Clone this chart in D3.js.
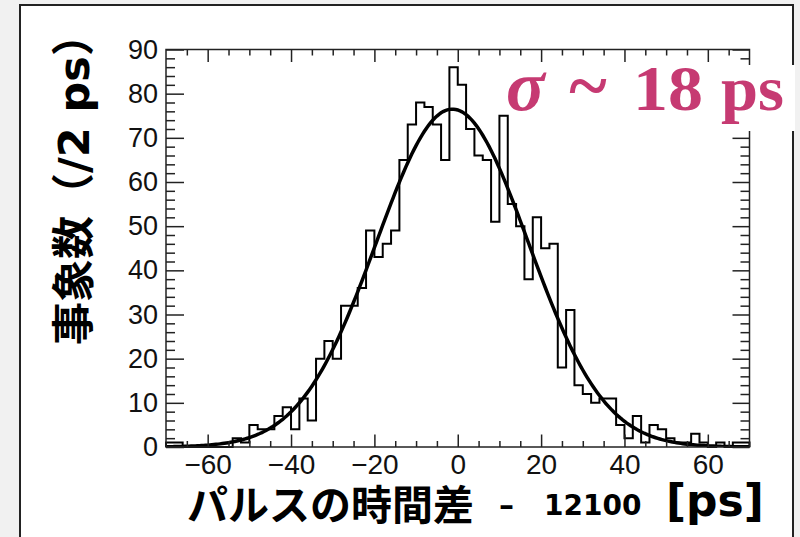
<!DOCTYPE html>
<html>
<head>
<meta charset="utf-8">
<script src="https://cdn.jsdelivr.net/npm/d3@7"></script>
<style>
  body { margin: 0; background: #f1f1f1; }
  svg { display: block; }
</style>
</head>
<body>
<div id="chart"></div>
<script>
// histogram: 2 ps bins from -70 to 70
const binStart = -70;
const binWidth = 2;
const counts = [
  1, 1, 0, 0, 0, 0, 0, 0, 2, 1,
  5, 4, 4, 7, 9, 4, 11, 6, 20, 24,
  20, 32, 32, 36, 49, 43, 46, 49, 65, 73,
  78, 77, 73, 65, 86, 82, 72, 66, 65, 51,
  75, 55, 50, 38, 52, 45, 46, 18, 31, 14,
  12, 10, 11, 11, 5, 2, 7, 1, 5, 4,
  2, 1, 1, 3, 1, 0, 1, 0, 1, 1
];

// gaussian fit
const fitConstant = 76.5;
const fitMean = -1.3;
const fitSigma = 18.2;

const xTicks = [-60, -40, -20, 0, 20, 40, 60];
const yTicks = [0, 10, 20, 30, 40, 50, 60, 70, 80, 90];

const W = 800, H = 537;
const plot = { left: 166, right: 749.5, top: 49.5, bottom: 447 };

const svg = d3.select("#chart").append("svg")
  .attr("width", W)
  .attr("height", H);

// slide panel
svg.append("rect")
  .attr("x", 20).attr("y", 5)
  .attr("width", 773).attr("height", 600)
  .attr("fill", "#fff")
  .attr("stroke", "#222")
  .attr("stroke-width", 2);

const x = d3.scaleLinear().domain([-70, 70]).range([plot.left, plot.right]);
const y = d3.scaleLinear().domain([0, 90]).range([plot.bottom, plot.top]);

svg.append("clipPath").attr("id", "clip")
  .append("rect")
  .attr("x", plot.left).attr("y", plot.top)
  .attr("width", plot.right - plot.left)
  .attr("height", plot.bottom - plot.top);

// histogram outline
const pts = [[binStart, 0]];
counts.forEach((c, i) => pts.push([binStart + i * binWidth, c]));
pts.push([binStart + counts.length * binWidth, counts[counts.length - 1]]);
pts.push([binStart + counts.length * binWidth, 0]);

svg.append("path")
  .attr("d", d3.line().x(d => x(d[0])).y(d => y(d[1])).curve(d3.curveStepAfter)(pts))
  .attr("fill", "none")
  .attr("stroke", "#000")
  .attr("stroke-width", 2);

// fit curve
const fx = d3.range(-70, 70.001, 0.5);
svg.append("path")
  .attr("clip-path", "url(#clip)")
  .attr("d", d3.line()
    .x(d => x(d))
    .y(d => y(fitConstant * Math.exp(-0.5 * Math.pow((d - fitMean) / fitSigma, 2))))(fx))
  .attr("fill", "none")
  .attr("stroke", "#000")
  .attr("stroke-width", 3.5);

// frame
svg.append("rect")
  .attr("x", plot.left).attr("y", plot.top)
  .attr("width", plot.right - plot.left)
  .attr("height", plot.bottom - plot.top)
  .attr("fill", "none")
  .attr("stroke", "#222")
  .attr("stroke-width", 1.5);

const xMinor = d3.range(-65, 70, 5).filter(v => v % 20 !== 0);
const yMinor = d3.range(0, 91, 2).filter(v => v % 10 !== 0);

function tickGroup(axis, tx, ty) {
  const g = svg.append("g")
    .attr("transform", `translate(${tx},${ty})`)
    .call(axis);
  g.select(".domain").remove();
  g.selectAll(".tick line").attr("stroke", "#222").attr("stroke-width", 1.5);
  return g;
}

// bottom
const gx = tickGroup(d3.axisBottom(x).tickValues(xTicks).tickSizeInner(-12.5).tickSizeOuter(0)
  .tickPadding(7).tickFormat(d3.format("d")), 0, plot.bottom);
gx.selectAll("text")
  .attr("font-family", "'Liberation Sans', Arial, sans-serif")
  .attr("font-size", 28)
  .attr("fill", "#111");
tickGroup(d3.axisBottom(x).tickValues(xMinor).tickSizeInner(-6).tickSizeOuter(0).tickFormat(""), 0, plot.bottom);
// top
tickGroup(d3.axisTop(x).tickValues(xTicks).tickSizeInner(-12.5).tickSizeOuter(0).tickFormat(""), 0, plot.top);
tickGroup(d3.axisTop(x).tickValues(xMinor).tickSizeInner(-6).tickSizeOuter(0).tickFormat(""), 0, plot.top);

// left
const gy = tickGroup(d3.axisLeft(y).tickValues(yTicks).tickSizeInner(-18).tickSizeOuter(0)
  .tickPadding(8), plot.left, 0);
gy.selectAll("text")
  .attr("font-family", "'Liberation Sans', Arial, sans-serif")
  .attr("font-size", 27)
  .attr("fill", "#111");
tickGroup(d3.axisLeft(y).tickValues(yMinor).tickSizeInner(-9).tickSizeOuter(0).tickFormat(""), plot.left, 0);
// right
tickGroup(d3.axisRight(y).tickValues(yTicks).tickSizeInner(-17).tickSizeOuter(0).tickFormat(""), plot.right, 0);
tickGroup(d3.axisRight(y).tickValues(yMinor).tickSizeInner(-9).tickSizeOuter(0).tickFormat(""), plot.right, 0);

// sigma annotation box
svg.append("rect")
  .attr("x", 512).attr("y", 65)
  .attr("width", 283).attr("height", 66)
  .attr("fill", "#fff");

const sigColor = "#c63a72";
const sigFont = "'Liberation Serif', 'DejaVu Serif', serif";
svg.append("text")
  .attr("x", 506).attr("y", 110)
  .attr("font-family", sigFont).attr("font-size", 72)
  .attr("font-weight", "bold").attr("font-style", "italic")
  .attr("fill", sigColor)
  .text("σ");
svg.append("text")
  .attr("x", 588).attr("y", 110)
  .attr("text-anchor", "middle")
  .attr("font-family", sigFont).attr("font-size", 72)
  .attr("font-weight", "bold")
  .attr("fill", sigColor)
  .text("~");
svg.append("text")
  .attr("x", 633).attr("y", 110)
  .attr("font-family", sigFont).attr("font-size", 64)
  .attr("font-weight", "bold")
  .attr("fill", sigColor)
  .attr("textLength", 70).attr("lengthAdjust", "spacingAndGlyphs")
  .text("18");
svg.append("text")
  .attr("x", 721).attr("y", 110)
  .attr("font-family", sigFont).attr("font-size", 64)
  .attr("font-weight", "bold")
  .attr("fill", sigColor)
  .attr("textLength", 63).attr("lengthAdjust", "spacingAndGlyphs")
  .text("ps");

// axis titles
const cjk = "'Noto Sans CJK JP', sans-serif";
const lat = "'DejaVu Sans', sans-serif";

const yl = svg.append("text")
  .attr("transform", "translate(89,345) rotate(-90)")
  .attr("font-weight", "bold")
  .attr("font-size", 43)
  .attr("fill", "#000");
yl.append("tspan").attr("font-family", cjk).text("事象数（");
yl.append("tspan").attr("font-family", lat).text("/2 ps");
yl.append("tspan").attr("font-family", cjk).text("）");

svg.append("text")
  .attr("x", 187).attr("y", 520)
  .attr("font-family", cjk).attr("font-weight", "bold")
  .attr("font-size", 41)
  .text("パルスの時間差");
svg.append("text")
  .attr("x", 499).attr("y", 515)
  .attr("font-family", lat).attr("font-weight", "bold")
  .attr("font-size", 30)
  .text("–");
svg.append("text")
  .attr("x", 544).attr("y", 515)
  .attr("font-family", lat).attr("font-weight", "bold")
  .attr("font-size", 28)
  .text("12100");
svg.append("text")
  .attr("x", 666).attr("y", 516)
  .attr("font-family", lat).attr("font-weight", "bold")
  .attr("font-size", 44)
  .text("[ps]");
</script>
</body>
</html>
